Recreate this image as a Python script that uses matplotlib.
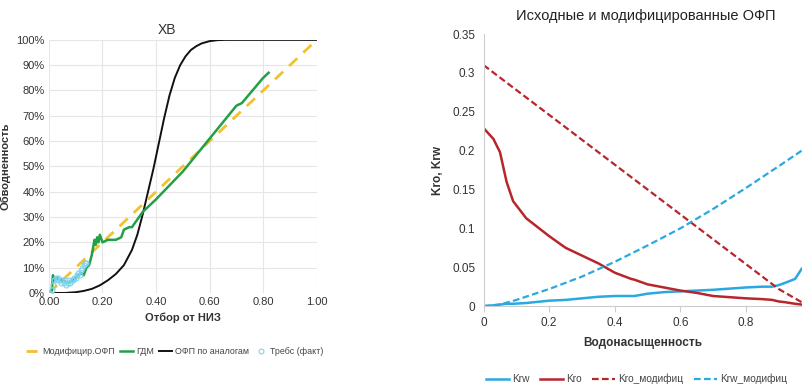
import matplotlib
matplotlib.use("Agg")
import matplotlib.pyplot as plt
import numpy as np

plt.rcParams['font.family'] = ['Liberation Sans', 'DejaVu Sans']

# --- левый график: ХВ ---
mod_x = [0.0, 1.0]
mod_y = [0.0, 1.0]

gdm_x = [0.01, 0.015, 0.02, 0.03, 0.04, 0.05, 0.07, 0.09, 0.10, 0.12, 0.13, 0.14, 0.15,
         0.16, 0.17, 0.175, 0.18, 0.185, 0.19, 0.20, 0.22, 0.25, 0.27, 0.28, 0.30, 0.31,
         0.33, 0.35, 0.40, 0.50, 0.60, 0.70, 0.72, 0.80, 0.82]
gdm_y = [0.00, 0.07, 0.05, 0.06, 0.05, 0.05, 0.04, 0.05, 0.06, 0.08, 0.07, 0.10, 0.11,
         0.15, 0.21, 0.19, 0.22, 0.20, 0.23, 0.20, 0.21, 0.21, 0.22, 0.25, 0.26, 0.26,
         0.29, 0.32, 0.37, 0.48, 0.61, 0.74, 0.75, 0.85, 0.87]

an_x = [0.016, 0.06, 0.10, 0.13, 0.16, 0.19, 0.22, 0.25, 0.28, 0.31, 0.33, 0.35, 0.37,
        0.39, 0.41, 0.43, 0.45, 0.47, 0.49, 0.51, 0.53, 0.55, 0.57, 0.60, 0.63, 0.66,
        0.70, 1.00]
an_y = [0.0, 0.0, 0.003, 0.008, 0.016, 0.03, 0.05, 0.075, 0.11, 0.17, 0.23, 0.31, 0.40,
        0.49, 0.59, 0.69, 0.78, 0.85, 0.90, 0.935, 0.96, 0.975, 0.986, 0.995, 0.999, 1.0,
        1.0, 1.0]

treb_x = [0.005, 0.01, 0.015, 0.02, 0.025, 0.03, 0.035, 0.04, 0.045, 0.05, 0.055, 0.06,
          0.065, 0.07, 0.075, 0.08, 0.085, 0.09, 0.095, 0.10, 0.105, 0.11, 0.115, 0.12,
          0.125, 0.13, 0.135, 0.14]
treb_y = [0.00, 0.01, 0.03, 0.05, 0.06, 0.05, 0.06, 0.05, 0.04, 0.05, 0.04, 0.05,
          0.03, 0.04, 0.05, 0.04, 0.05, 0.05, 0.06, 0.06, 0.07, 0.08, 0.07, 0.09,
          0.10, 0.11, 0.12, 0.12]

# --- правый график: ОФП ---
sw = [0.0, 0.03, 0.05, 0.07, 0.09, 0.13, 0.20, 0.25, 0.30, 0.35, 0.40, 0.45, 0.46,
      0.50, 0.55, 0.60, 0.65, 0.70, 0.80, 0.85, 0.88, 0.90, 0.92, 0.95, 0.97]
krw = [0.0, 0.001, 0.002, 0.003, 0.003, 0.004, 0.007, 0.008, 0.010, 0.012, 0.013, 0.013, 0.013,
       0.016, 0.018, 0.019, 0.020, 0.021, 0.024, 0.025, 0.025, 0.027, 0.030, 0.035, 0.048]
kro = [0.229, 0.215, 0.198, 0.160, 0.135, 0.113, 0.090, 0.075, 0.065, 0.055, 0.043, 0.035, 0.034,
       0.028, 0.024, 0.020, 0.017, 0.013, 0.010, 0.009, 0.008, 0.006, 0.005, 0.003, 0.002]
sw_mod = [0.0, 0.05, 0.10, 0.20, 0.30, 0.40, 0.50, 0.60, 0.70, 0.80, 0.90, 0.97]
krw_mod = [0.0, 0.002, 0.008, 0.022, 0.038, 0.057, 0.078, 0.100, 0.125, 0.152, 0.180, 0.200]
kro_mod = [0.310, 0.294, 0.278, 0.246, 0.214, 0.182, 0.150, 0.118, 0.086, 0.054, 0.022, 0.005]

fig = plt.figure(figsize=(8.02, 3.87), dpi=100)

# левый
ax1 = fig.add_axes([0.061, 0.243, 0.334, 0.654])
ax1.plot(mod_x, mod_y, color='#f2c12e', lw=2, ls=(0, (4, 3)), label='Модифицир.ОФП', zorder=3)
ax1.plot(gdm_x, gdm_y, color='#22a045', lw=1.8, label='ГДМ', zorder=4)
ax1.plot(an_x, an_y, color='#111111', lw=1.4, label='ОФП по аналогам', zorder=2)
ax1.plot(treb_x, treb_y, ls='none', marker='o', ms=3.5, mfc='none', mec='#7dd3ee', mew=0.8,
         label='Требс (факт)', zorder=5)
ax1.set_xlim(0, 1)
ax1.set_ylim(0, 1)
ax1.set_xticks(np.arange(0, 1.01, 0.2))
ax1.set_xticklabels([f'{v:.2f}' for v in np.arange(0, 1.01, 0.2)])
ax1.set_yticks(np.arange(0, 1.01, 0.1))
ax1.set_yticklabels([f'{int(round(v * 100))}%' for v in np.arange(0, 1.01, 0.1)])
ax1.grid(True, color='#e6e6e6', lw=0.8)
ax1.set_axisbelow(True)
for s in ax1.spines.values():
    s.set_visible(False)
ax1.tick_params(length=0, labelsize=8, colors='#333333', pad=3)
ax1.set_title('ХВ', fontsize=10, color='#333333', pad=4, x=0.44)
ax1.set_xlabel('Отбор от НИЗ', fontsize=8, fontweight='bold', color='#333333', labelpad=4)
ax1.set_ylabel('Обводненность', fontsize=8, fontweight='bold', color='#333333', labelpad=4)
ax1.legend(loc='upper center', bbox_to_anchor=(0.47, -0.19), ncol=4, frameon=False,
           fontsize=6.4, handlelength=1.5, handletextpad=0.3, columnspacing=0.6,
           labelcolor='#444444', borderpad=0.2)

# правый
ax2 = fig.add_axes([0.603, 0.209, 0.397, 0.703])
ax2.plot(sw, krw, color='#2aa9e0', lw=1.8, label='Krw')
ax2.plot(sw, kro, color='#b8262c', lw=1.8, label='Kro')
ax2.plot(sw_mod, kro_mod, color='#b8262c', lw=1.6, ls=(0, (3, 1.5)), label='Kro_модифиц')
ax2.plot(sw_mod, krw_mod, color='#2aa9e0', lw=1.6, ls=(0, (3, 1.5)), label='Krw_модифиц')
ax2.set_xlim(0, 0.971)
ax2.set_ylim(0, 0.35)
ax2.set_xticks([0, 0.2, 0.4, 0.6, 0.8])
ax2.set_xticklabels(['0', '0.2', '0.4', '0.6', '0.8'])
ax2.set_yticks([0, 0.05, 0.1, 0.15, 0.2, 0.25, 0.3, 0.35])
ax2.set_yticklabels(['0', '0.05', '0.1', '0.15', '0.2', '0.25', '0.3', '0.35'])
ax2.spines['top'].set_visible(False)
ax2.spines['right'].set_visible(False)
ax2.spines['left'].set_color('#cccccc')
ax2.spines['bottom'].set_color('#cccccc')
ax2.tick_params(axis='x', length=4, direction='out', labelsize=8.5, labelcolor='#333333', color='#cccccc')
ax2.tick_params(axis='y', length=0, labelsize=8.5, labelcolor='#333333', pad=6)
ax2.set_title('Исходные и модифицированные ОФП', fontsize=10.5, color='#222222', pad=10, x=0.51)
ax2.set_xlabel('Водонасыщенность', fontsize=8.5, fontweight='bold', color='#333333', labelpad=6)
ax2.set_ylabel('Kro, Krw', fontsize=8.5, fontweight='bold', color='#333333', labelpad=6)
ax2.legend(loc='upper center', bbox_to_anchor=(0.48, -0.215), ncol=4, frameon=False,
           fontsize=7.3, handlelength=2.3, handletextpad=0.3, columnspacing=1.0,
           labelcolor='#444444')

fig.savefig('out.png', dpi=100)
